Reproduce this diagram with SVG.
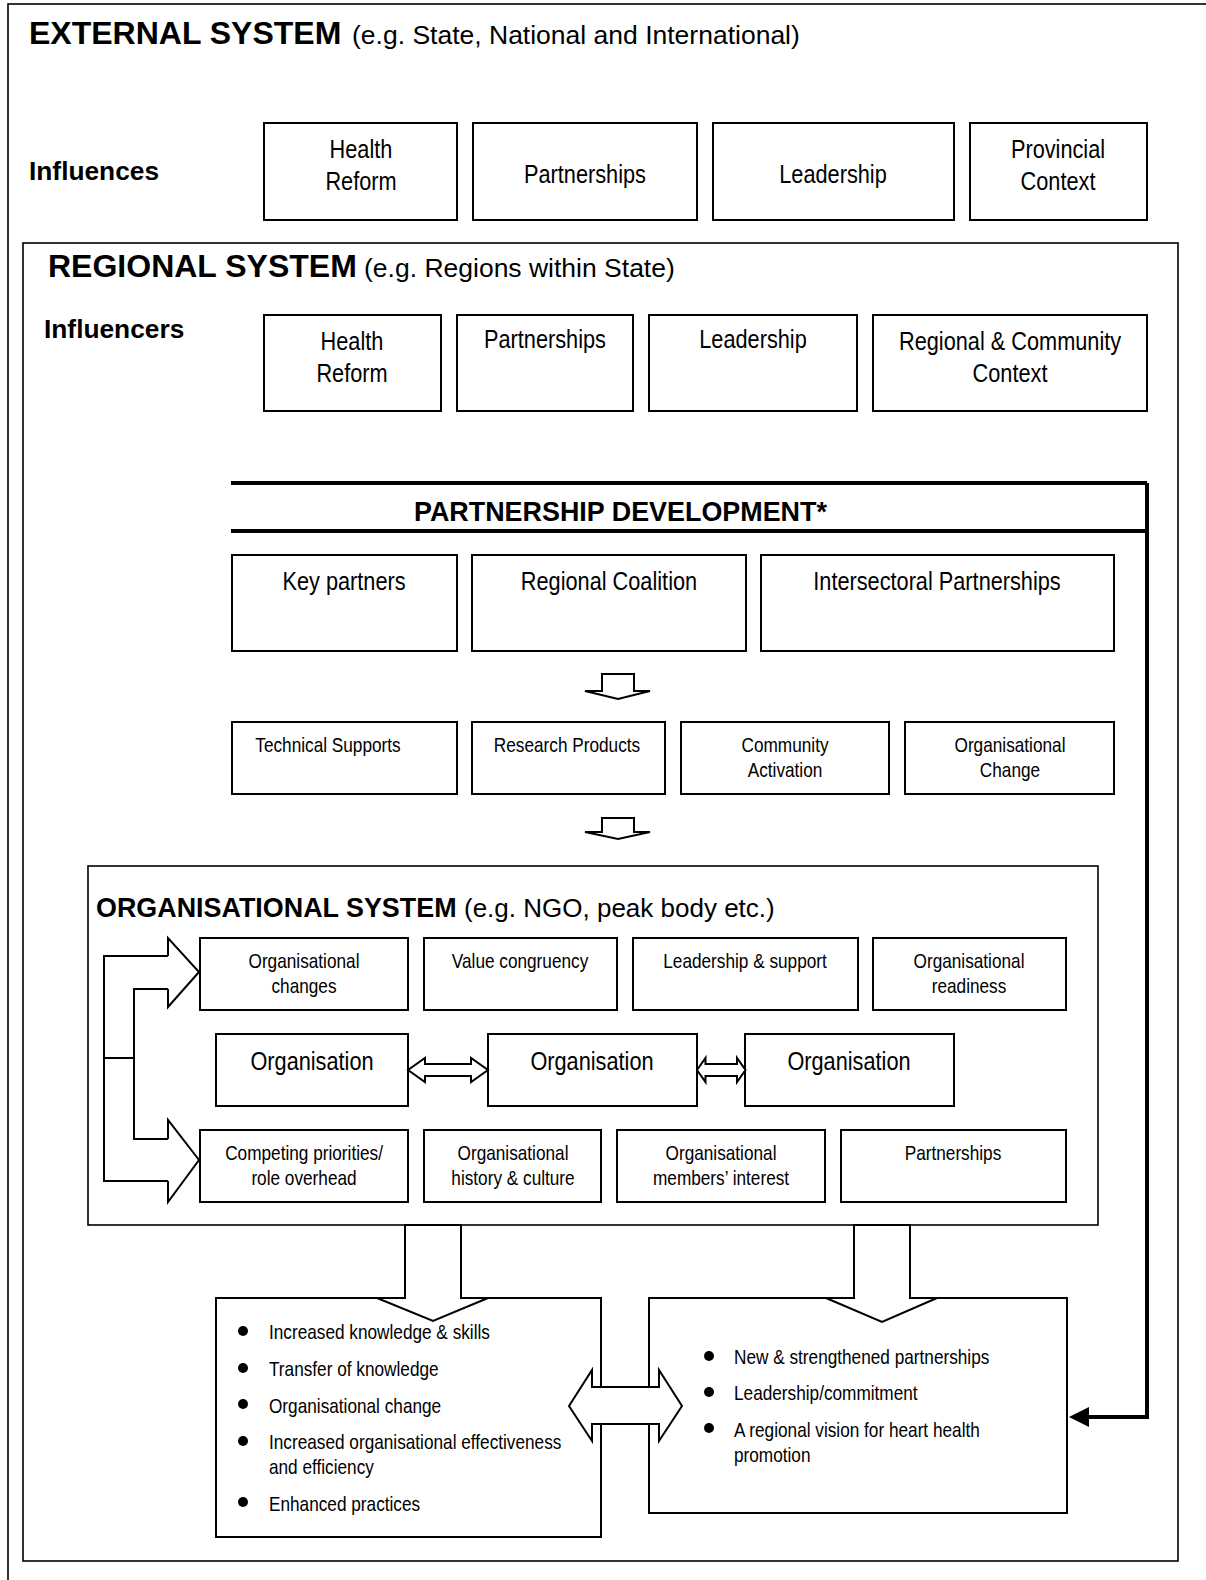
<svg xmlns="http://www.w3.org/2000/svg" width="1206" height="1580" viewBox="0 0 1206 1580">
<style>
.frame{fill:none;stroke:#000;stroke-width:1.6}
.box{fill:#fff;stroke:#000;stroke-width:2}
.hd{font-family:"Liberation Sans",Arial,sans-serif;font-weight:bold;fill:#000}
.hr{font-family:"Liberation Sans",Arial,sans-serif;fill:#000}
.n{font-family:"Liberation Sans Narrow","Arial Narrow","Liberation Sans",sans-serif;fill:#000;text-anchor:middle;transform-box:fill-box;transform-origin:50% 50%;transform:scaleX(0.82)}
.nl{font-family:"Liberation Sans Narrow","Arial Narrow","Liberation Sans",sans-serif;fill:#000;transform-box:fill-box;transform-origin:0% 50%;transform:scaleX(0.82)}
.big{font-size:26.5px}
.sm{font-size:21px}
.ln{fill:none;stroke:#000;stroke-width:2}
.blk{fill:#fff;stroke:#000;stroke-width:2}
.thick{fill:none;stroke:#000;stroke-width:4}
</style>
<defs>
<marker id="ah" markerWidth="5" markerHeight="5" refX="1" refY="2.5" orient="auto" markerUnits="strokeWidth">
<path d="M0,0 L5,2.5 L0,5 Z" fill="#000"/>
</marker>
</defs>
<rect width="1206" height="1580" fill="#fff"/>

<g id="external-system">
<rect class="frame" x="8" y="4" width="1220" height="1600"/>
<text x="29" y="44"><tspan class="hd" font-size="32">EXTERNAL SYSTEM</tspan><tspan class="hr" x="352" font-size="26.5">(e.g. State, National and International)</tspan></text>
<text class="hd" x="29" y="180" font-size="26.3">Influences</text>
</g>
<g id="ext-health-reform"><rect class="box" x="264" y="123" width="193" height="97"/><text class="n big" x="361" y="158">Health</text><text class="n big" x="361" y="190">Reform</text></g>
<g id="ext-partnerships"><rect class="box" x="473" y="123" width="224" height="97"/><text class="n big" x="585" y="183">Partnerships</text></g>
<g id="ext-leadership"><rect class="box" x="713" y="123" width="241" height="97"/><text class="n big" x="833" y="183">Leadership</text></g>
<g id="ext-provincial-context"><rect class="box" x="970" y="123" width="177" height="97"/><text class="n big" x="1058" y="158">Provincial</text><text class="n big" x="1058" y="190">Context</text></g>

<g id="regional-system">
<rect class="frame" x="23" y="243" width="1155" height="1318"/>
<text x="48" y="277"><tspan class="hd" font-size="32">REGIONAL SYSTEM</tspan><tspan class="hr" x="364" font-size="26.5">(e.g. Regions within State)</tspan></text>
<text class="hd" x="44" y="338" font-size="26.3">Influencers</text>
</g>
<g id="reg-health-reform"><rect class="box" x="264" y="315" width="177" height="96"/><text class="n big" x="352" y="350">Health</text><text class="n big" x="352" y="382">Reform</text></g>
<g id="reg-partnerships"><rect class="box" x="457" y="315" width="176" height="96"/><text class="n big" x="545" y="348">Partnerships</text></g>
<g id="reg-leadership"><rect class="box" x="649" y="315" width="208" height="96"/><text class="n big" x="753" y="348">Leadership</text></g>
<g id="reg-community-context"><rect class="box" x="873" y="315" width="274" height="96"/><text class="n big" x="1010" y="350">Regional &amp; Community</text><text class="n big" x="1010" y="382">Context</text></g>

<g id="partnership-development">
<path class="thick" d="M231,483 L1147,483 M231,531 L1147,531"/>
<text class="hd" x="414" y="521" font-size="26.9">PARTNERSHIP DEVELOPMENT*</text>
</g>
<g id="key-partners"><rect class="box" x="232" y="555" width="225" height="96"/><text class="n big" x="344" y="590">Key partners</text></g>
<g id="regional-coalition"><rect class="box" x="472" y="555" width="274" height="96"/><text class="n big" x="609" y="590">Regional Coalition</text></g>
<g id="intersectoral-partnerships"><rect class="box" x="761" y="555" width="353" height="96"/><text class="n big" x="937" y="590">Intersectoral Partnerships</text></g>

<g id="technical-supports"><rect class="box" x="232" y="722" width="225" height="72"/><text class="n sm" x="328" y="752">Technical Supports</text></g>
<g id="research-products"><rect class="box" x="472" y="722" width="193" height="72"/><text class="n sm" x="567" y="752">Research Products</text></g>
<g id="community-activation"><rect class="box" x="681" y="722" width="208" height="72"/><text class="n sm" x="785" y="752">Community</text><text class="n sm" x="785" y="777">Activation</text></g>
<g id="organisational-change"><rect class="box" x="905" y="722" width="209" height="72"/><text class="n sm" x="1010" y="752">Organisational</text><text class="n sm" x="1010" y="777">Change</text></g>

<g id="organisational-system">
<rect class="frame" x="88" y="866" width="1010" height="359"/>
<text x="96" y="917"><tspan class="hd" font-size="26.9">ORGANISATIONAL SYSTEM</tspan><tspan class="hr" x="464" font-size="26">(e.g. NGO, peak body etc.)</tspan></text>
</g>
<g id="org-changes"><rect class="box" x="200" y="938" width="208" height="72"/><text class="n sm" x="304" y="968">Organisational</text><text class="n sm" x="304" y="993">changes</text></g>
<g id="value-congruency"><rect class="box" x="424" y="938" width="193" height="72"/><text class="n sm" x="520" y="968">Value congruency</text></g>
<g id="leadership-support"><rect class="box" x="633" y="938" width="225" height="72"/><text class="n sm" x="745" y="968">Leadership &amp; support</text></g>
<g id="org-readiness"><rect class="box" x="873" y="938" width="193" height="72"/><text class="n sm" x="969" y="968">Organisational</text><text class="n sm" x="969" y="993">readiness</text></g>

<g id="organisation-1"><rect class="box" x="216" y="1034" width="192" height="72"/><text class="n big" x="312" y="1070">Organisation</text></g>
<g id="organisation-2"><rect class="box" x="488" y="1034" width="209" height="72"/><text class="n big" x="592" y="1070">Organisation</text></g>
<g id="organisation-3"><rect class="box" x="745" y="1034" width="209" height="72"/><text class="n big" x="849" y="1070">Organisation</text></g>

<g id="competing-priorities"><rect class="box" x="200" y="1130" width="208" height="72"/><text class="n sm" x="304" y="1160">Competing priorities/</text><text class="n sm" x="304" y="1185">role overhead</text></g>
<g id="history-culture"><rect class="box" x="424" y="1130" width="177" height="72"/><text class="n sm" x="513" y="1160">Organisational</text><text class="n sm" x="513" y="1185">history &amp; culture</text></g>
<g id="members-interest"><rect class="box" x="617" y="1130" width="208" height="72"/><text class="n sm" x="721" y="1160">Organisational</text><text class="n sm" x="721" y="1185">members’ interest</text></g>
<g id="org-partnerships"><rect class="box" x="841" y="1130" width="225" height="72"/><text class="n sm" x="953" y="1160">Partnerships</text></g>

<g id="outcomes-organisational">
<rect class="box" x="216" y="1298" width="385" height="239"/>
<g fill="#000"><circle cx="243" cy="1331" r="5"/><circle cx="243" cy="1368" r="5"/><circle cx="243" cy="1404" r="5"/><circle cx="243" cy="1441" r="5"/><circle cx="243" cy="1502" r="5"/></g>
<text class="nl sm" x="269" y="1339">Increased knowledge &amp; skills</text>
<text class="nl sm" x="269" y="1376">Transfer of knowledge</text>
<text class="nl sm" x="269" y="1413">Organisational change</text>
<text class="nl sm" x="269" y="1449">Increased organisational effectiveness</text>
<text class="nl sm" x="269" y="1474">and efficiency</text>
<text class="nl sm" x="269" y="1511">Enhanced practices</text>
</g>
<g id="outcomes-regional">
<rect class="box" x="649" y="1298" width="418" height="215"/>
<g fill="#000"><circle cx="709" cy="1356" r="5"/><circle cx="709" cy="1392" r="5"/><circle cx="709" cy="1428" r="5"/></g>
<text class="nl sm" x="734" y="1364">New &amp; strengthened partnerships</text>
<text class="nl sm" x="734" y="1400">Leadership/commitment</text>
<text class="nl sm" x="734" y="1437">A regional vision for heart health</text>
<text class="nl sm" x="734" y="1462">promotion</text>
</g>

<g id="connectors">
<polygon class="blk" points="602,674 634,674 634,691 650,691 618,699 585,691 602,691"/>
<polygon class="blk" points="602,818 634,818 634,832 650,832 618,839 585,832 602,832"/>
<path class="ln" d="M168,956 L104,956 L104,1181 L168,1181 M168,989 L134,989 L134,1139 L168,1139 M104,1058 L134,1058"/>
<path class="blk" d="M168,956 L168,938 L199,972 L168,1007 L168,989"/>
<path class="blk" d="M168,1139 L168,1120 L199,1160 L168,1202 L168,1181"/>
<polygon class="blk" points="408,1070 425,1058 425,1064 471,1064 471,1058 488,1070 471,1082 471,1076 425,1076 425,1082"/>
<polygon class="blk" points="697,1070 705.5,1058 705.5,1064 737,1064 737,1058 745.5,1070 737,1082 737,1076 705.5,1076 705.5,1082"/>
<polygon class="blk" points="405,1225 405,1298 377,1298 433,1321 488,1298 461,1298 461,1225"/>
<polygon class="blk" points="854,1225 854,1298 826,1298 882,1322 937,1298 910,1298 910,1225"/>
<polygon class="blk" points="569,1406 592,1370 592,1387 659,1387 659,1370 682,1406 659,1441 659,1424 592,1424 592,1441"/>
<path class="thick" d="M1147,483 L1147,1417 L1085,1417" marker-end="url(#ah)"/>
</g>
</svg>
